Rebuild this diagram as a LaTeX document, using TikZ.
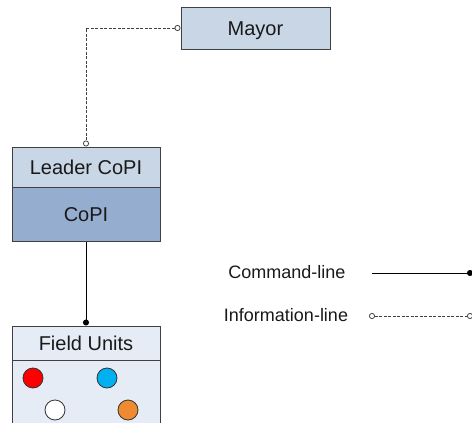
\documentclass[tikz,border=0pt]{standalone}
\usepackage{fontspec}
\setmainfont{Liberation Sans}
\usetikzlibrary{arrows.meta}
\definecolor{boxlight}{HTML}{C9D6E6}
\definecolor{boxdark}{HTML}{95AECF}
\definecolor{boxpale}{HTML}{E6ECF5}
\definecolor{edge}{HTML}{404040}
\definecolor{fured}{HTML}{FF0000}
\definecolor{fublue}{HTML}{00B0F0}
\definecolor{fuorange}{HTML}{F08A30}
\tikzset{
  boxbase/.style={draw=edge, line width=1pt, inner sep=0pt, text=black!90, font=\fontsize{20}{24}\selectfont, text height=14.4pt, text depth=0pt},
  unit/.style={circle, draw=black!80, line width=0.8pt, minimum size=20pt, inner sep=0pt},
  cmdline/.style={line width=0.8pt, black, -{Circle[length=6pt]}},
  infoline/.style={line width=0.8pt, black!75, dash pattern=on 3pt off 1.5pt, {Circle[open,length=6pt,fill=white]}-{Circle[open,length=6pt,fill=white]}},
  legtext/.style={font=\fontsize{18}{21}\selectfont, text=black!90, text height=13pt, text depth=0pt}
}
\begin{document}
\begin{tikzpicture}[x=1pt,y=-1pt]
\clip (0,0) rectangle (472,423);
\useasboundingbox (0,0) rectangle (472,423);
\node[boxbase, fill=boxlight, minimum width=149pt, minimum height=42pt] (mayor) at (255.5,28) {Mayor};
\node[boxbase, fill=boxlight, minimum width=148pt, minimum height=40pt] (leader) at (86,167) {Leader CoPI};
\node[boxbase, fill=boxdark, minimum width=148pt, minimum height=54pt] (copi) at (86,214) {CoPI};
\node[boxbase, fill=boxpale, minimum width=148pt, minimum height=70pt, anchor=north] (fubody) at (86,360) {};
\node[boxbase, fill=boxpale, minimum width=148pt, minimum height=34pt] (fu) at (86,343) {Field Units};
\node[unit, fill=fured] (u1) at (33,378) {};
\node[unit, fill=fublue] (u2) at (107,378) {};
\node[unit, fill=white] (u3) at (55,410) {};
\node[unit, fill=fuorange] (u4) at (128,410) {};
\draw[infoline] (mayor.west) -| (leader.north);
\draw[cmdline] (copi.south) -- (fu.north);
\node[legtext] (cmdtext) at (287,272) {Command-line};
\node[legtext] (infotext) at (286,315) {Information-line};
\coordinate (c1) at (372,273);
\coordinate (c2) at (473,273);
\coordinate (i1) at (369,316);
\coordinate (i2) at (473,316);
\draw[cmdline] (c1) -- (c2);
\draw[infoline] (i1) -- (i2);
\end{tikzpicture}
\end{document}
